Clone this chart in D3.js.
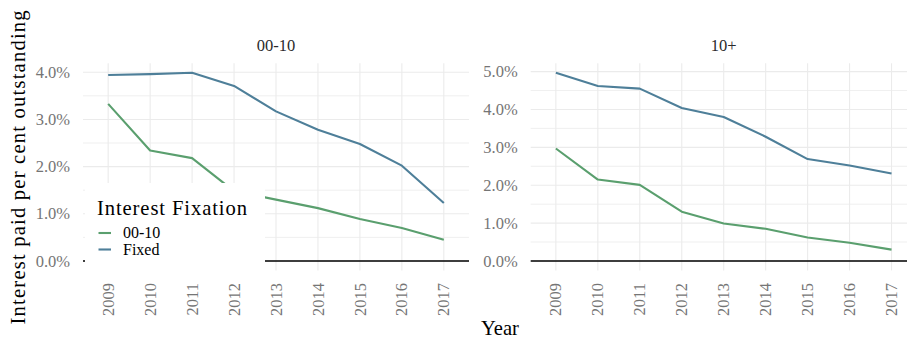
<!DOCTYPE html>
<html>
<head>
<meta charset="utf-8">
<script src="https://cdn.jsdelivr.net/npm/d3@7"></script>
<style>
  body { margin: 0; background: #fff; }
</style>
</head>
<body>
<div id="chart"></div>
<script>
// Data
const years = [2009, 2010, 2011, 2012, 2013, 2014, 2015, 2016, 2017];
const facets = ["00-10", "10+"];
const seriesNames = ["00-10", "Fixed"];

// Interest paid per cent outstanding (%), one array per facet and series
const short0010 = [3.33, 2.34, 2.18, 1.48, 1.3, 1.12, 0.89, 0.7, 0.45];
const fixed0010 = [3.94, 3.96, 3.99, 3.71, 3.17, 2.78, 2.48, 2.02, 1.23];
const short10p = [2.97, 2.15, 2.01, 1.3, 0.99, 0.85, 0.62, 0.48, 0.3];
const fixed10p = [4.97, 4.62, 4.55, 4.04, 3.8, 3.28, 2.69, 2.52, 2.31];

const panelData = [
  { facet: facets[0], series: [short0010, fixed0010] },
  { facet: facets[1], series: [short10p, fixed10p] },
];

// Display options
const width = 907;
const height = 338;
const fontFamily = '"Liberation Serif", "Times New Roman", serif';
const colours = ["#5a9f6e", "#4e7f99"];
const gridColour = "#ebebeb";
const tickColour = "#757575";
const tickSize = 16.5;
const titleSize = 20.6;

// Panel boxes
const panels = [
  { left: 83, right: 469 },
  { left: 530.7, right: 916.7 },
];
const panelTop = 63.3;
const panelBottom = 270.4;

const svg = d3
  .select("#chart")
  .append("svg")
  .attr("width", width)
  .attr("height", height)
  .attr("viewBox", [0, 0, width, height])
  .style("font-family", fontFamily);

const fmt = (d) => d3.format(".1f")(d) + "%";

panelData.forEach((p, i) => {
  const box = panels[i];

  const xScale = d3
    .scalePoint()
    .domain(years)
    .range([box.left, box.right])
    .padding(0.6);

  // free y scale, 5% expansion, includes the zero line
  const yMax = d3.max(p.series.flat());
  const yScale = d3
    .scaleLinear()
    .domain([-0.05 * yMax, 1.05 * yMax])
    .range([panelBottom, panelTop]);

  const majorTicks = d3.range(0, Math.floor(yMax * 1.05) + 1);
  const minorTicks = d3.range(0.5, yMax * 1.05, 1);

  const g = svg.append("g");

  // Grids
  g.append("g")
    .selectAll("line")
    .data(minorTicks)
    .join("line")
    .attr("x1", box.left)
    .attr("x2", box.right)
    .attr("y1", (d) => yScale(d))
    .attr("y2", (d) => yScale(d))
    .attr("stroke", gridColour)
    .attr("stroke-width", 0.8);

  g.append("g")
    .selectAll("line")
    .data(majorTicks)
    .join("line")
    .attr("x1", box.left)
    .attr("x2", box.right)
    .attr("y1", (d) => yScale(d))
    .attr("y2", (d) => yScale(d))
    .attr("stroke", gridColour)
    .attr("stroke-width", 1.1);

  g.append("g")
    .selectAll("line")
    .data(years)
    .join("line")
    .attr("x1", (d) => xScale(d))
    .attr("x2", (d) => xScale(d))
    .attr("y1", panelTop)
    .attr("y2", panelBottom)
    .attr("stroke", gridColour)
    .attr("stroke-width", 1.1);

  // Zero line
  g.append("line")
    .attr("x1", box.left)
    .attr("x2", box.right)
    .attr("y1", yScale(0))
    .attr("y2", yScale(0))
    .attr("stroke", "#000")
    .attr("stroke-width", 1.4);

  // Series lines
  const line = d3
    .line()
    .x((d, j) => xScale(years[j]))
    .y((d) => yScale(d));

  g.append("g")
    .selectAll("path")
    .data(p.series)
    .join("path")
    .attr("d", (d) => line(d))
    .attr("fill", "none")
    .attr("stroke", (d, j) => colours[j])
    .attr("stroke-width", 2.1)
    .attr("stroke-linejoin", "round");

  // Y tick labels
  g.append("g")
    .selectAll("text")
    .data(majorTicks)
    .join("text")
    .attr("x", box.left - 13)
    .attr("y", (d) => yScale(d))
    .attr("dy", "0.34em")
    .attr("text-anchor", "end")
    .style("font-family", fontFamily)
    .attr("font-size", tickSize)
    .attr("fill", tickColour)
    .text(fmt);

  // X tick labels, rotated
  g.append("g")
    .selectAll("text")
    .data(years)
    .join("text")
    .attr("transform", (d) => `translate(${xScale(d)}, 283) rotate(-90)`)
    .attr("dy", "0.34em")
    .attr("text-anchor", "end")
    .style("font-family", fontFamily)
    .attr("font-size", tickSize)
    .attr("fill", tickColour)
    .text((d) => d);

  // Facet strip title
  g.append("text")
    .attr("x", (box.left + box.right) / 2)
    .attr("y", 51)
    .attr("text-anchor", "middle")
    .style("font-family", fontFamily)
    .attr("font-size", tickSize)
    .attr("fill", "#2a2a2a")
    .text(p.facet);
});

// Legend, drawn inside the first panel over a white box
const legend = svg.append("g");
legend
  .append("rect")
  .attr("x", 85)
  .attr("y", 183)
  .attr("width", 180)
  .attr("height", 89)
  .attr("fill", "#fff");

legend
  .append("text")
  .attr("x", 97)
  .attr("y", 215)
  .style("font-family", fontFamily)
  .attr("font-size", titleSize)
  .attr("letter-spacing", 0.9)
  .attr("fill", "#000")
  .text("Interest Fixation");

const items = legend
  .selectAll("g.item")
  .data(seriesNames)
  .join("g")
  .attr("class", "item")
  .attr("transform", (d, i) => `translate(0, ${233 + i * 16.5})`);

items
  .append("line")
  .attr("x1", 98.5)
  .attr("x2", 111)
  .attr("stroke", (d, i) => colours[i])
  .attr("stroke-width", 2.1);

items
  .append("text")
  .attr("x", 123)
  .attr("dy", "0.34em")
  .style("font-family", fontFamily)
  .attr("font-size", 16)
  .attr("fill", "#000")
  .text((d) => d);

// Axis titles
svg
  .append("text")
  .attr("x", 500)
  .attr("y", 335)
  .attr("text-anchor", "middle")
  .style("font-family", fontFamily)
  .attr("font-size", titleSize)
  .attr("fill", "#000")
  .text("Year");

svg
  .append("text")
  .attr("transform", `translate(25, ${(panelTop + panelBottom) / 2}) rotate(-90)`)
  .attr("text-anchor", "middle")
  .style("font-family", fontFamily)
  .attr("font-size", titleSize)
  .attr("letter-spacing", 1.2)
  .attr("fill", "#000")
  .text("Interest paid per cent outstanding");
</script>
</body>
</html>
